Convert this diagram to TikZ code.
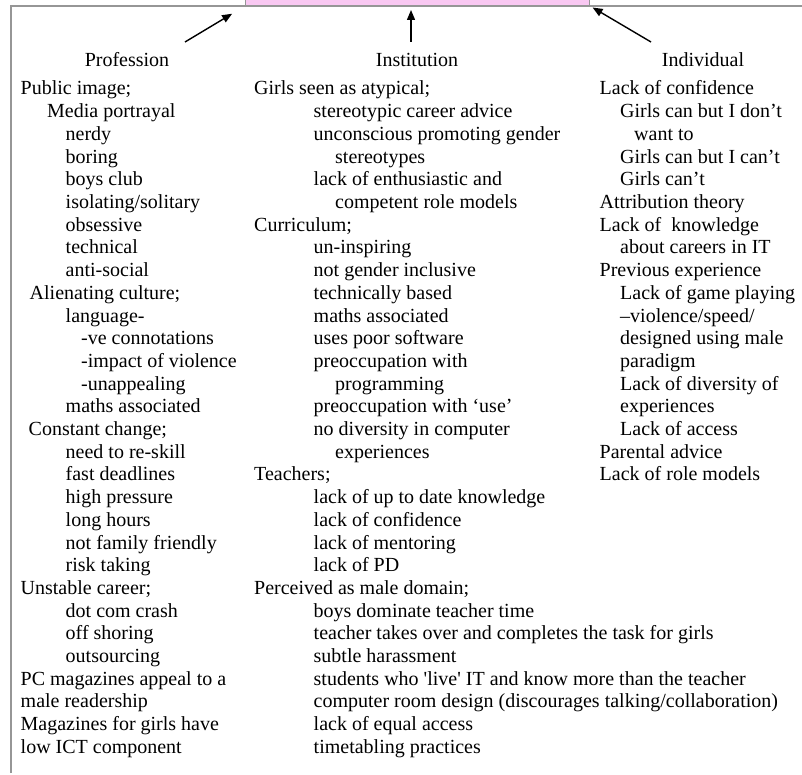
\documentclass[tikz,border=0pt]{standalone}
\usepackage{fontspec}
\setmainfont{Liberation Serif}
\usetikzlibrary{arrows.meta}
\definecolor{pinkbox}{RGB}{249,200,242}
\definecolor{framegray}{RGB}{150,150,150}
\begin{document}
\begin{tikzpicture}[x=1pt, y=-1pt,
    txt/.style={anchor=base west, inner sep=0, font=\fontsize{20}{22.7}\selectfont},
    head/.style={anchor=base, inner sep=0, font=\fontsize{20}{22.7}\selectfont},
    arr/.style={-{Triangle[length=10pt,width=8pt]}, line width=1.4pt}]
    \useasboundingbox (0,0) rectangle (802,775);
    \draw[framegray, line width=1.3pt] (11,773) -- (11,6) -- (802,6);
    \node[draw=framegray, fill=pinkbox, line width=1pt, anchor=south west, inner sep=0,
          minimum width=344pt, minimum height=30pt] (box) at (245,6) {};

    \node[head] (prof) at (127,67) {Profession};
    \node[head] (inst) at (417,67) {Institution};
    \node[head] (indiv) at (703,67) {Individual};

    \coordinate (pa) at (185,42);
    \coordinate (ia) at (411,42);
    \coordinate (da) at (651,42);
    \draw[arr, shorten >=15pt] (pa) -- (box.south west);
    \draw[arr, shorten >=4pt] (ia) -- (ia |- box.south);
    \draw[arr, shorten >=3pt] (da) -- (box.south east);

    % profession
    \foreach \ind/\txt [count=\n from 0] in {0/{Public image;}, 26.5/{Media portrayal},
        45/nerdy, 45/boring, 45/{boys club}, 45/{isolating/solitary}, 45/obsessive,
        45/technical, 45/anti-social, 9/{Alienating culture;}, 45/language-,
        60.5/{-ve connotations}, 60.5/{-impact of violence}, 60.5/{-unappealing},
        45/{maths associated}, 8/{Constant change;}, 45/{need to re-skill},
        45/{fast deadlines}, 45/{high pressure}, 45/{long hours},
        45/{not family friendly}, 45/{risk taking}, 0/{Unstable career;},
        45/{dot com crash}, 45/{off shoring}, 45/outsourcing,
        0/{PC magazines appeal to a}, 0/{male readership},
        0/{Magazines for girls have}, 0/{low ICT component}}
        \node[txt] (prof\n) at ({20.5+\ind},{95+22.7*\n}) {\txt};

    % institution
    \foreach \ind/\txt [count=\n from 0] in {0/{Girls seen as atypical;},
        59.5/{stereotypic career advice}, 59.5/{unconscious promoting gender},
        81/stereotypes, 59.5/{lack of enthusiastic and}, 81/{competent role models},
        0/{Curriculum;}, 59.5/un-inspiring, 59.5/{not gender inclusive},
        59.5/{technically based}, 59.5/{maths associated}, 59.5/{uses poor software},
        59.5/{preoccupation with}, 81/programming, 59.5/{preoccupation with ‘use’},
        59.5/{no diversity in computer}, 81/experiences, 0/{Teachers;},
        59.5/{lack of up to date knowledge}, 59.5/{lack of confidence},
        59.5/{lack of mentoring}, 59.5/{lack of PD}, 0/{Perceived as male domain;},
        59.5/{boys dominate teacher time},
        59.5/{teacher takes over and completes the task for girls},
        59.5/{subtle harassment},
        59.5/{students who \textquotesingle live\textquotesingle{} IT and know more than the teacher},
        59.5/{computer room design (discourages talking/collaboration)},
        59.5/{lack of equal access}, 59.5/{timetabling practices}}
        \node[txt] (inst\n) at ({254+\ind},{95+22.7*\n}) {\txt};

    % individual
    \foreach \ind/\txt [count=\n from 0] in {0/{Lack of confidence},
        20.5/{Girls can but I don’t}, 34.5/{want to}, 20.5/{Girls can but I can’t},
        20.5/{Girls can’t}, 0/{Attribution theory}, 0/{Lack of\ \ knowledge},
        20.5/{about careers in IT}, 0/{Previous experience},
        20.5/{Lack of game playing}, 20.5/{–violence/speed/},
        20.5/{designed using male}, 20.5/paradigm, 20.5/{Lack of diversity of},
        20.5/experiences, 20.5/{Lack of access}, 0/{Parental advice},
        0/{Lack of role models}}
        \node[txt] (indiv\n) at ({599.5+\ind},{95+22.7*\n}) {\txt};
\end{tikzpicture}
\end{document}
